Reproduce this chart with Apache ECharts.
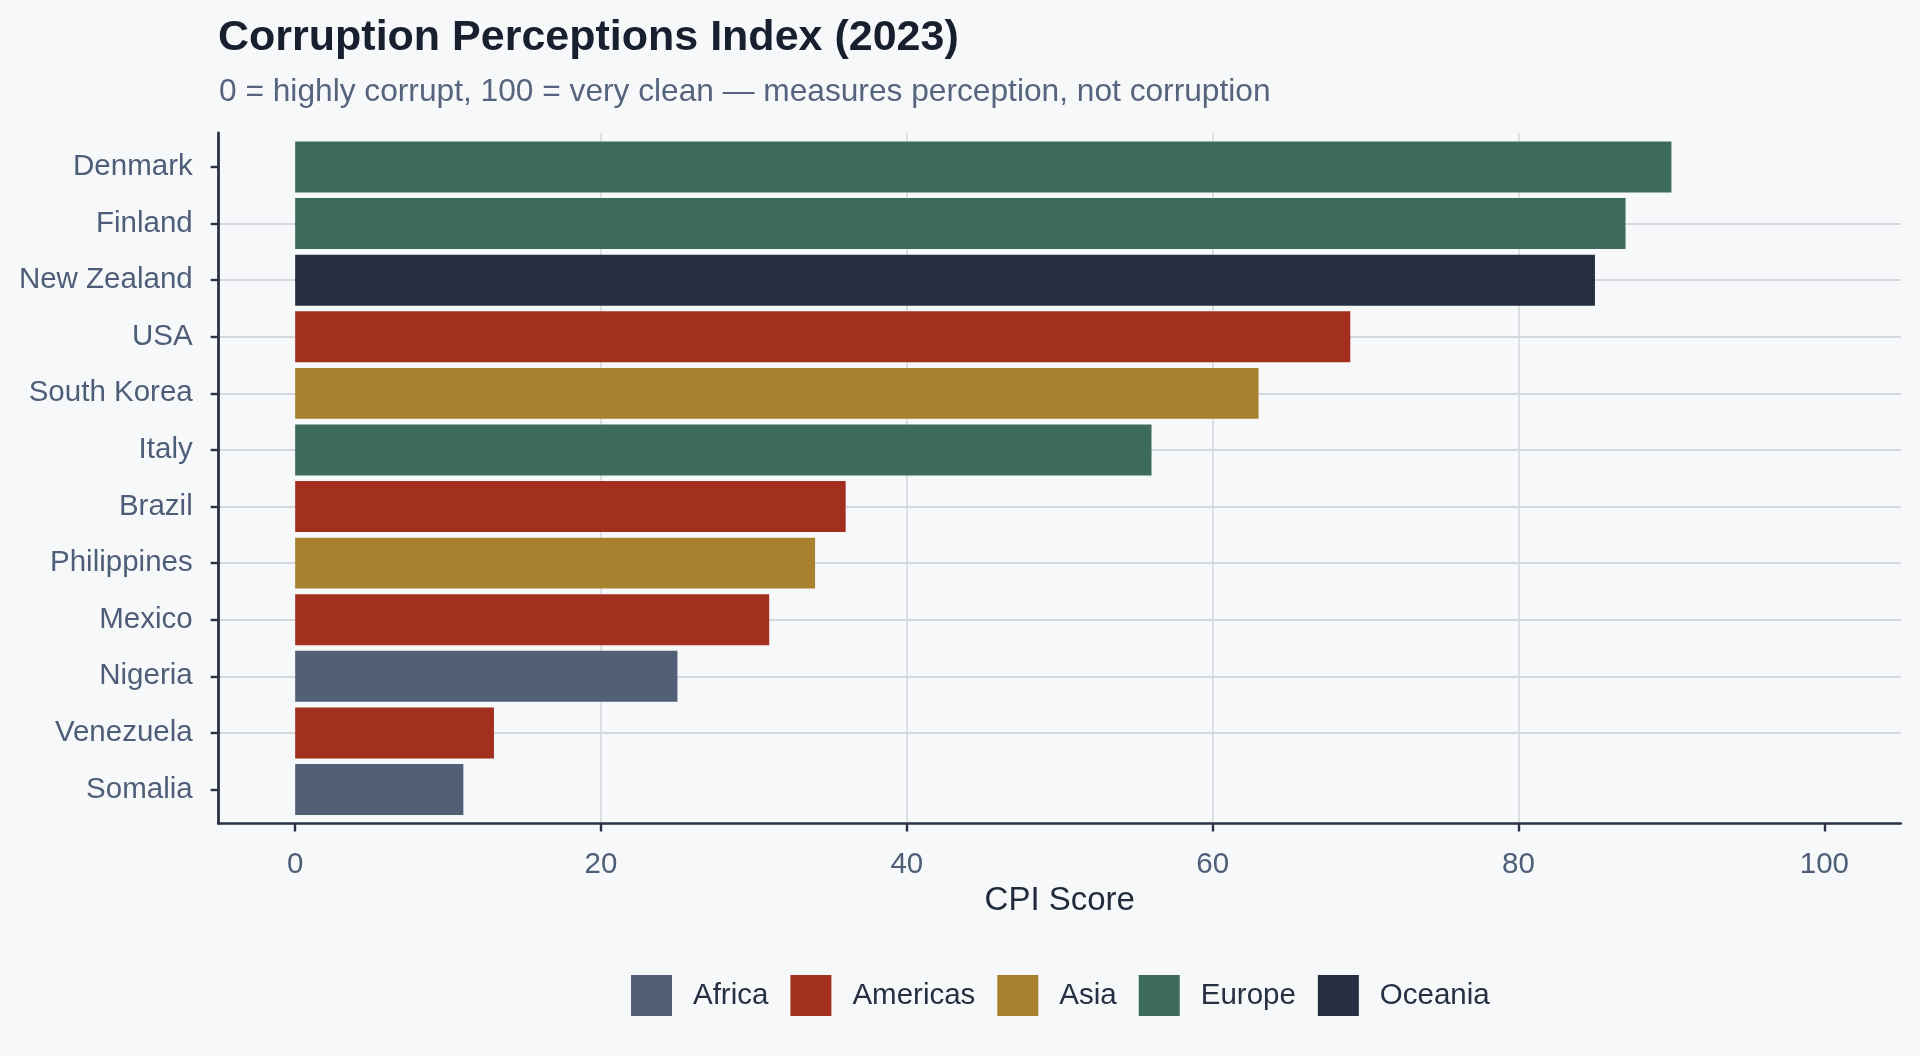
<!DOCTYPE html>
<html>
<head>
<meta charset="utf-8">
<script src="https://cdn.jsdelivr.net/npm/echarts@6/dist/echarts.min.js"></script>
<style>
  html, body { margin: 0; padding: 0; background: #f7f8fa; }
  #chart { width: 1920px; height: 1056px; }
</style>
</head>
<body>
<div id="chart"></div>
<script>
const countries = ['Denmark', 'Finland', 'New Zealand', 'USA', 'South Korea', 'Italy', 'Brazil', 'Philippines', 'Mexico', 'Nigeria', 'Venezuela', 'Somalia'];
const scores = [90, 87, 85, 69, 63, 56, 36, 34, 31, 25, 13, 11];
const countryRegions = ['Europe', 'Europe', 'Oceania', 'Americas', 'Asia', 'Europe', 'Americas', 'Asia', 'Americas', 'Africa', 'Americas', 'Africa'];
const regions = ['Africa', 'Americas', 'Asia', 'Europe', 'Oceania'];
const regionColors = ['#526076', '#a3301f', '#a7812e', '#3c6a5b', '#262f42'];
const xTicks = [0, 20, 40, 60, 80, 100];

const FONT = "'Liberation Sans', Arial, sans-serif";
const chart = echarts.init(document.getElementById('chart'), null, { renderer: 'canvas' });

const rowIdx = countries.map((c, i) => i);

const series = regions.map((r, k) => ({
  name: r,
  type: 'bar',
  xAxisIndex: 1,
  yAxisIndex: 1,
  stack: 'all',
  barWidth: '90%',
  itemStyle: { color: regionColors[k] },
  emphasis: { disabled: true },
  data: countries.map((c, i) => countryRegions[i] === r ? scores[i] : '-')
}));

const option = {
  backgroundColor: '#f7f8fa',
  animation: false,
  textStyle: { fontFamily: FONT },
  title: [
    {
      text: 'Corruption Perceptions Index (2023)',
      left: 218, top: 17, padding: 0,
      textStyle: { fontFamily: FONT, fontSize: 43, fontWeight: 'bold', color: '#18202f' }
    },
    {
      text: '0 = highly corrupt, 100 = very clean \u2014 measures perception, not corruption',
      left: 219, top: 76, padding: 0,
      textStyle: { fontFamily: FONT, fontSize: 31.7, fontWeight: 'normal', color: '#56657d' }
    }
  ],
  legend: {
    data: regions,
    left: 631, top: 975,
    padding: 0,
    icon: 'rect',
    itemWidth: 41, itemHeight: 41,
    itemGap: 22,
    selectedMode: false,
    textStyle: { fontFamily: FONT, fontSize: 29.5, color: '#253043', padding: [5, 0, 0, 16] }
  },
  grid: [
    { left: 218.7, right: 19.2, top: 133, bottom: 232.5, containLabel: false },
    { left: 218.7, right: 19.2, top: 138.66, bottom: 238.16, containLabel: false }
  ],
  xAxis: [
    {
      gridIndex: 0, type: 'value', min: -5, max: 105,
      minInterval: 20, maxInterval: 20,
      name: 'CPI Score', nameLocation: 'middle', nameGap: 59.5,
      nameTextStyle: { fontFamily: FONT, fontSize: 33, color: '#1f2a3a' },
      axisLine: { show: true, onZero: false, lineStyle: { color: '#2a3345', width: 2.6 } },
      axisTick: { show: true, length: 8, customValues: xTicks, lineStyle: { color: '#2a3345', width: 2.4 } },
      axisLabel: { show: true, margin: 26.5, customValues: xTicks, fontFamily: FONT, fontSize: 29.5, color: '#4f5e78' },
      splitLine: { show: true, showMinLine: false, showMaxLine: false, lineStyle: { color: '#d3d7de', width: 1.5 } }
    },
    {
      gridIndex: 1, type: 'value', min: -5, max: 105, show: false,
      splitLine: { show: false }
    }
  ],
  yAxis: [
    {
      gridIndex: 0, type: 'value', min: -0.6, max: 11.6, inverse: true,
      minInterval: 1, maxInterval: 1,
      axisLine: { show: true, onZero: false, lineStyle: { color: '#2a3345', width: 2.8 } },
      axisTick: { show: true, length: 8, customValues: rowIdx, lineStyle: { color: '#2a3345', width: 2.4 } },
      axisLabel: {
        show: true, margin: 26, customValues: rowIdx,
        fontFamily: FONT, fontSize: 29.5, color: '#4f5e78',
        padding: [5, 0, 0, 0],
        formatter: v => countries[Math.round(v)] || ''
      },
      splitLine: { show: true, showMinLine: false, showMaxLine: false, lineStyle: { color: '#d3d7de', width: 2 } }
    },
    {
      gridIndex: 1, type: 'category', data: countries, inverse: true, show: false,
      splitLine: { show: false }
    }
  ],
  series: series
};

chart.setOption(option);
</script>
</body>
</html>
